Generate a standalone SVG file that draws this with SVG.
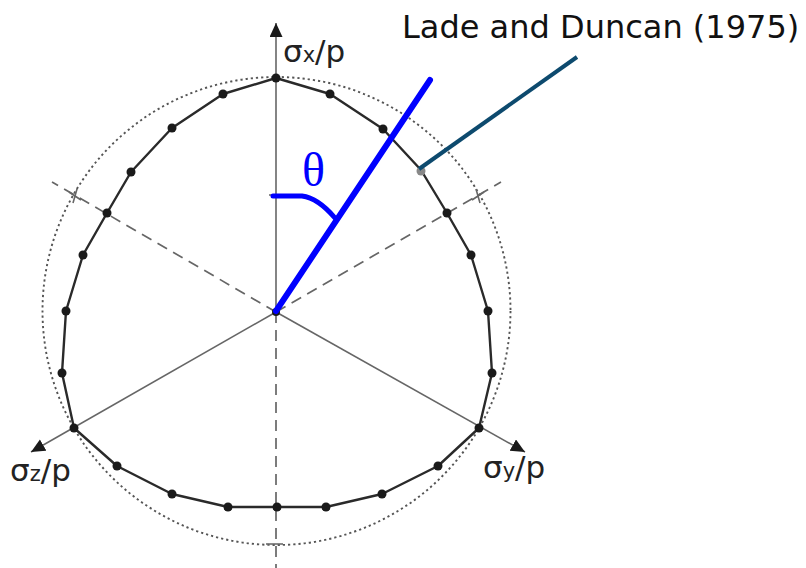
<svg xmlns="http://www.w3.org/2000/svg" width="806" height="568" viewBox="0 0 806 568">
<style>
.axis{stroke:#666;stroke-width:1.6;fill:none}
.dash{stroke:#666;stroke-width:1.7;fill:none;stroke-dasharray:11 7}
.circ{stroke:#555;stroke-width:1.9;fill:none;stroke-dasharray:2.2 3}
.poly{stroke:#2a2a2a;stroke-width:2.4;fill:none;stroke-linejoin:round}
.dot{fill:#1a1a1a}
.lbl{font-family:"DejaVu Sans",Verdana,sans-serif;font-size:31px;fill:#222}
.sub{font-size:21px}
</style>
<defs>
<marker id="arr" markerUnits="userSpaceOnUse" markerWidth="16" markerHeight="14" refX="14" refY="6.5" orient="auto">
<path d="M0,0 L14,6.5 L0,13 Z" fill="#1a1a1a"/>
</marker>
</defs>
<circle class="circ" cx="276.5" cy="311" r="234"/>
<g id="connectors">
<line class="axis" x1="276" y1="312" x2="276" y2="23" marker-end="url(#arr)"/>
<line class="axis" x1="276" y1="312" x2="31" y2="452" marker-end="url(#arr)"/>
<line class="axis" x1="276" y1="312" x2="525" y2="452" marker-end="url(#arr)"/>
<line class="dash" x1="276" y1="312" x2="276" y2="568"/>
<line class="dash" x1="276" y1="312" x2="52" y2="182"/>
<line class="dash" x1="276" y1="312" x2="501" y2="182"/>
<path class="axis" d="M69,192 L81,200 M77,189 L73,203 M472,200 L484,192 M476,189 L480,203 M266,544 L283,544 M269,195 L276,195"/>
</g>
<g id="yield-surface">
<polygon class="poly" points="276,78 330,94 383,129 421,170 447,213 471,255 488,311 492,373 479,428 438,466 382,494 326,507 277,507 228,507 172,494 117,466 74,428 62,373 66,311 83,255 107,213 131,172 172,128 223,94"/>
<g class="dot">
<circle cx="276" cy="78" r="4.5"/><circle cx="330" cy="94" r="4.5"/><circle cx="383" cy="129" r="4.5"/>
<circle cx="447" cy="213" r="4.5"/><circle cx="471" cy="255" r="4.5"/><circle cx="488" cy="311" r="4.5"/><circle cx="492" cy="373" r="4.5"/>
<circle cx="479" cy="428" r="4.5"/><circle cx="438" cy="466" r="4.5"/><circle cx="382" cy="494" r="4.5"/><circle cx="326" cy="507" r="4.5"/>
<circle cx="277" cy="507" r="4.5"/><circle cx="228" cy="507" r="4.5"/><circle cx="172" cy="494" r="4.5"/><circle cx="117" cy="466" r="4.5"/>
<circle cx="74" cy="428" r="4.5"/><circle cx="62" cy="373" r="4.5"/><circle cx="66" cy="311" r="4.5"/><circle cx="83" cy="255" r="4.5"/>
<circle cx="107" cy="213" r="4.5"/><circle cx="131" cy="172" r="4.5"/><circle cx="172" cy="128" r="4.5"/><circle cx="223" cy="94" r="4.5"/>
<circle cx="276" cy="312" r="4"/>
</g>
<circle cx="421" cy="171" r="4.5" fill="#888"/>
</g>
<g id="theta">
<line x1="276" y1="311" x2="430" y2="80" stroke="#0000ff" stroke-width="6" stroke-linecap="round"/>
<path d="M273,196 L302,196 Q318,198 335,218" stroke="#0000ff" stroke-width="5" fill="none" stroke-linecap="round"/>
<text x="302" y="186" font-family="'Liberation Serif','Times New Roman',serif" font-size="48" fill="#0000ff">θ</text>
</g>
<g id="lade-label">
<line x1="419" y1="169" x2="577" y2="57" stroke="#0d4a6e" stroke-width="4"/>
<text x="402" y="38" font-family="'DejaVu Sans',Verdana,sans-serif" font-size="32" fill="#111">Lade and Duncan (1975)</text>
</g>
<g id="labels">
<text class="lbl" x="283" y="62">σ<tspan class="sub">x</tspan>/p</text>
<text class="lbl" x="10" y="481">σ<tspan class="sub">z</tspan>/p</text>
<text class="lbl" x="483" y="478">σ<tspan class="sub">y</tspan>/p</text>
</g>
</svg>
